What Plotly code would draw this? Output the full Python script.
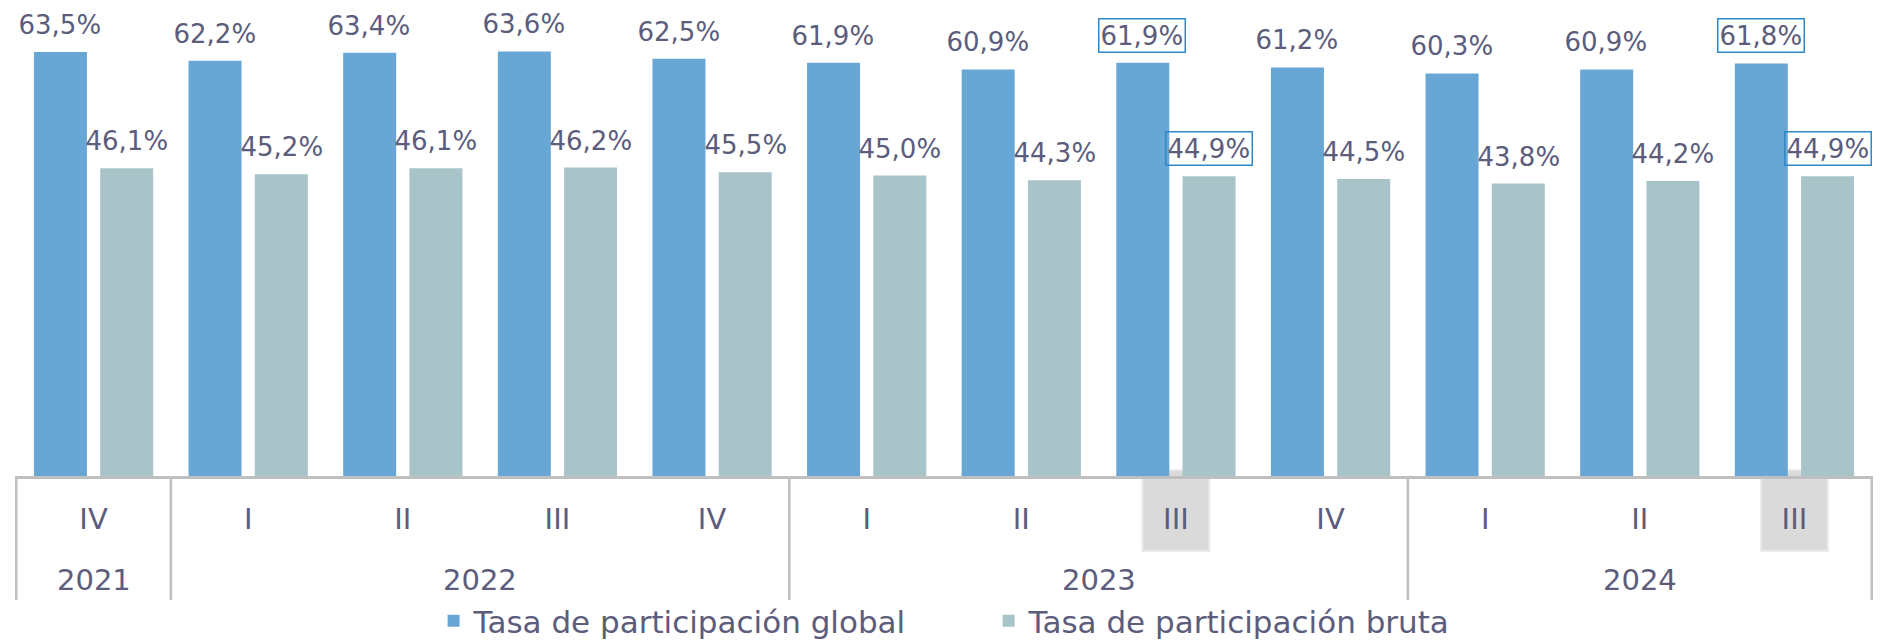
import plotly.graph_objects as go

# data
years = ["2021", "2022", "2022", "2022", "2022", "2023", "2023", "2023", "2023", "2024", "2024", "2024"]
quarters = ["IV", "I", "II", "III", "IV", "I", "II", "III", "IV", "I", "II", "III"]
tasa_global = [63.5, 62.2, 63.4, 63.6, 62.5, 61.9, 60.9, 61.9, 61.2, 60.3, 60.9, 61.8]
tasa_bruta = [46.1, 45.2, 46.1, 46.2, 45.5, 45.0, 44.3, 44.9, 44.5, 43.8, 44.2, 44.9]
highlight = ["2023 III", "2024 III"]

BLUE = "#68a7d5"
GREY = "#a9c4c9"
TEXT = "#5c5c7c"
AXIS = "#bfbfbf"
BOX = "#2f88c8"
FONT = "DejaVu Sans"

cats = [f"{y} {q}" for y, q in zip(years, quarters)]

fig = go.Figure()
fig.add_trace(go.Bar(x=cats, y=tasa_global, name="Tasa de participación global",
                     marker=dict(color=BLUE, line=dict(width=0)), hoverinfo="skip"))
fig.add_trace(go.Bar(x=cats, y=tasa_bruta, name="Tasa de participación bruta",
                     marker=dict(color=GREY, line=dict(width=0)), hoverinfo="skip"))

annotations = []
# value labels, boxed for the highlighted quarters
for vals, shift in ((tasa_global, -33.5), (tasa_bruta, 33.5)):
    for c, v in zip(cats, vals):
        boxed = c in highlight
        annotations.append(dict(
            x=c, y=v, xref="x", yref="y", xshift=shift, yshift=10,
            text=f"{v:.1f}%".replace(".", ","), showarrow=False,
            yanchor="bottom", font=dict(family=FONT, size=26, color=TEXT),
            bordercolor=BOX if boxed else "rgba(0,0,0,0)", borderwidth=1.5,
            borderpad=1,
        ))

# year labels centred under their quarters, plus dividers between years
shapes = []
starts = [0] + [i for i in range(1, len(years)) if years[i] != years[i - 1]]
ends = starts[1:] + [len(years)]
for s, e in zip(starts, ends):
    annotations.append(dict(
        x=(s + e - 1) / 2, y=-0.222, xref="x", yref="paper", text=years[s],
        showarrow=False, yanchor="middle", font=dict(family=FONT, size=29, color=TEXT),
    ))
for b in starts + [len(years)]:
    shapes.append(dict(type="line", xref="x", yref="paper", x0=b - 0.5, x1=b - 0.5,
                       y0=0, y1=-0.265, line=dict(color=AXIS, width=2.5)))

for c in highlight:
    i = cats.index(c)
    shapes.append(dict(type="rect", xref="x", yref="paper", x0=i - 0.217, x1=i + 0.217,
                       y0=0.0128, y1=-0.16, fillcolor="rgba(205,205,205,0.75)",
                       line=dict(color="rgba(235,235,235,1)", width=2), layer="below"))

fig.update_layout(
    width=1888, height=642,
    margin=dict(l=7, r=23, t=0, b=174, autoexpand=False),
    paper_bgcolor="white", plot_bgcolor="white",
    barmode="group", bargap=0.143, bargroupgap=0.2,
    font=dict(family=FONT, color=TEXT),
    xaxis=dict(
        type="category", tickvals=cats, ticktext=quarters, ticks="",
        tickfont=dict(family=FONT, size=29, color=TEXT), ticklabelstandoff=15,
        showline=True, linecolor=AXIS, linewidth=3, showgrid=False, zeroline=False,
        automargin=False,
    ),
    yaxis=dict(range=[0, 70.1], visible=False, automargin=False),
    legend=dict(orientation="h", x=0.524, xanchor="center", y=-0.31, yanchor="middle",
                font=dict(family=FONT, size=31, color=TEXT), entrywidth=510,
                bgcolor="rgba(0,0,0,0)"),
    annotations=annotations,
    shapes=shapes,
)

fig.write_html("out.html")
